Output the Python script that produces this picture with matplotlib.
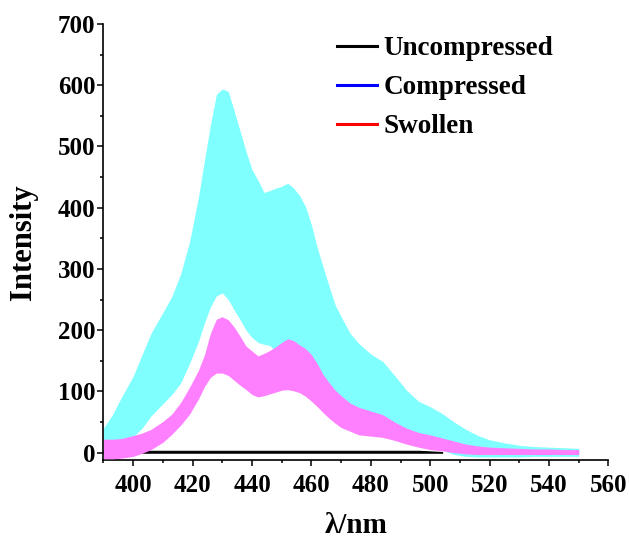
import numpy as np
import matplotlib.pyplot as plt
from matplotlib.ticker import MultipleLocator
from matplotlib.lines import Line2D

plt.rcParams['font.family'] = ['Liberation Serif', 'DejaVu Serif']
plt.rcParams['font.weight'] = 'bold'

# wavelength grid (nm)
wl = [390, 393, 396, 400, 403, 406, 410, 413, 416, 419, 422, 424, 426, 428,
      430, 432, 434, 436, 438, 440, 442, 444, 446, 448, 450, 452, 454, 456,
      458, 460, 462, 464, 466, 468, 470, 473, 476, 480, 484, 488, 492, 496,
      500, 504, 508, 512, 516, 520, 525, 530, 535, 540, 545, 550]

# Compressed: upper / lower envelope of the spectra
comp_hi = [40, 62, 90, 125, 160, 195, 229, 255, 292, 345, 418, 478, 535, 585,
           594, 590, 558, 525, 492, 462, 445, 425, 428, 432, 435, 440, 432, 420,
           402, 372, 334, 302, 271, 241, 222, 195, 178, 161, 149, 126, 102, 84,
           75, 64, 50, 38, 28, 21, 16, 12, 10, 9, 8, 7]
comp_lo = [8, 14, 20, 26, 40, 60, 80, 95, 114, 146, 182, 212, 238, 256,
           261, 250, 233, 217, 200, 188, 180, 177, 175, 165, 160, 155, 150, 145,
           135, 120, 105, 90, 78, 66, 58, 50, 45, 42, 40, 30, 22, 14,
           10, 4, -3, -6, -7, -7, -7, -7, -6, -6, -6, -6]

# Swollen: upper / lower envelope
swol_hi = [22, 22, 23, 28, 32, 38, 51, 63, 82, 107, 135, 160, 195, 218,
           222, 217, 205, 190, 174, 166, 158, 162, 167, 173, 180, 186, 183, 176,
           170, 160, 145, 127, 114, 102, 93, 81, 74, 68, 62, 50, 40, 33,
           29, 24, 19, 14, 11, 9, 8, 7, 6, 6, 5, 5]
swol_lo = [-10, -10, -9, -6, -1, 5, 17, 30, 45, 63, 88, 108, 123, 130,
           130, 126, 118, 110, 103, 95, 91, 93, 96, 99, 102, 103, 101, 98,
           92, 84, 75, 65, 56, 48, 41, 35, 29, 27, 25, 20, 14, 9,
           5, 3, 0, -2, -3, -3, -3, -3, -3, -3, -3, -3]

# Uncompressed: nearly flat baseline
unc_hi = [3, 3, 3, 3, 3, 3, 3, 3, 3, 3, 3, 3, 3, 3,
          3, 3, 3, 3, 3, 3, 3, 3, 3, 3, 3, 3, 3, 3,
          3, 3, 3, 3, 3, 3, 3, 3, 3, 3, 3, 3, 3, 3,
          2, 1, 0, 0, 0, 0, 0, 0, 0, 0, 0, 0]
unc_lo = [0] * len(wl)

fig = plt.figure(figsize=(6.29, 5.41), dpi=100)
ax = fig.add_axes([0.1645, 0.1497, 0.8029, 0.8059])

wl_a = np.array(wl)
has_unc = wl_a <= 506
ax.fill_between(wl, unc_lo, unc_hi, where=has_unc, color='black', lw=0.8, zorder=1)
ax.fill_between(wl, comp_lo, comp_hi, color='#80FFFF', lw=0, zorder=2)
ax.fill_between(wl, swol_lo, swol_hi, color='#FF80FF', lw=0, zorder=3)

ax.set_xlim(390, 560)
ax.set_ylim(-12, 700)
ax.xaxis.set_major_locator(MultipleLocator(20))
ax.xaxis.set_minor_locator(MultipleLocator(10))
ax.yaxis.set_major_locator(MultipleLocator(100))
ax.yaxis.set_minor_locator(MultipleLocator(50))

for s in ['top', 'right']:
    ax.spines[s].set_visible(False)
for s in ['left', 'bottom']:
    ax.spines[s].set_linewidth(1.2)

ax.tick_params(which='major', direction='out', length=4, width=1.1, labelsize=18)
ax.tick_params(which='minor', direction='out', length=2.3, width=1.1)
ax.tick_params(axis='x', which='major', pad=6)
ax.tick_params(axis='y', which='major', pad=2)

ax.set_xlabel('λ/nm', fontsize=21, fontweight='bold')
ax.set_ylabel('Intensity', fontsize=22, fontweight='bold')
ax.xaxis.set_label_coords(0.5, -0.12)
ax.yaxis.set_label_coords(-0.13, 0.5)

handles = [Line2D([], [], color='black', lw=2.2),
           Line2D([], [], color='blue', lw=2.2),
           Line2D([], [], color='red', lw=2.2)]
ax.legend(handles, ['Uncompressed', 'Compressed', 'Swollen'],
          loc='upper left', bbox_to_anchor=(0.462, 0.972), frameon=False,
          fontsize=19.5, handlelength=1.5, handletextpad=0.22,
          labelspacing=0.52, borderpad=0, borderaxespad=0)

fig.savefig('out.png', dpi=100)
